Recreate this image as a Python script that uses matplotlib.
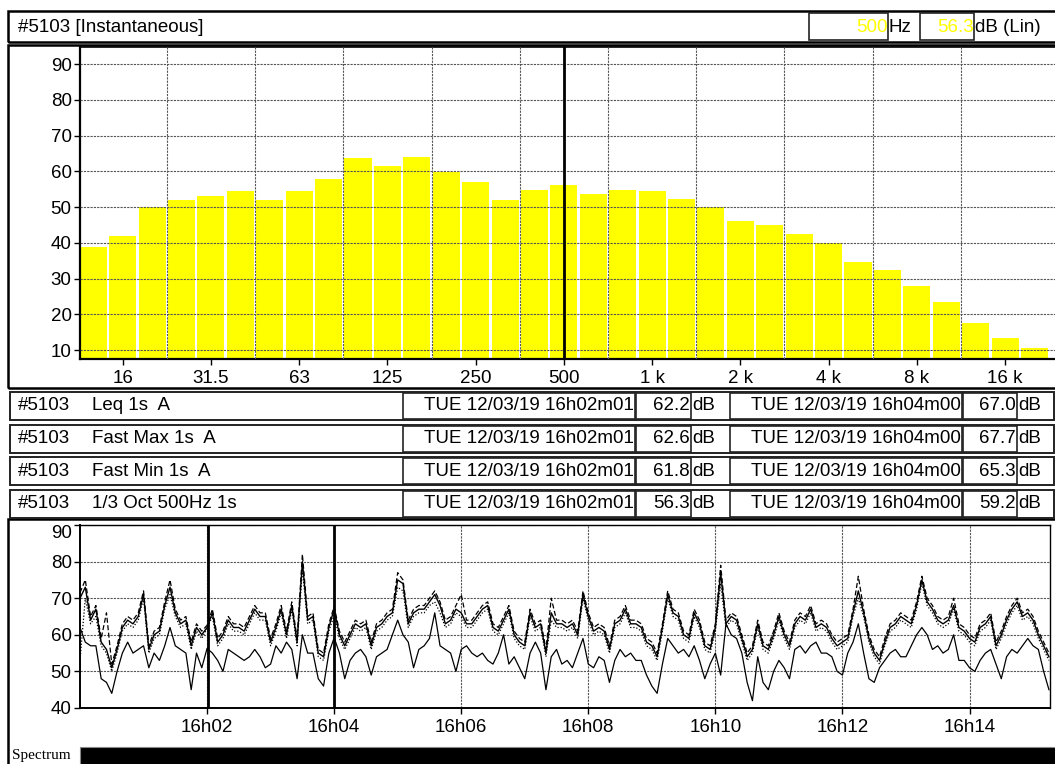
import matplotlib
matplotlib.use("Agg")
import matplotlib.pyplot as plt
from matplotlib.patches import Rectangle
import numpy as np

plt.rcParams['font.family'] = ['Liberation Sans', 'DejaVu Sans']
plt.rcParams['font.size'] = 13.5

W, H = 1055, 764

# 1/3 octave spectrum, 12.5 Hz .. 20 kHz
bands = ['12.5', '16', '20', '25', '31.5', '40', '50', '63', '80', '100', '125', '160',
         '200', '250', '315', '400', '500', '630', '800', '1 k', '1.25 k', '1.6 k', '2 k',
         '2.5 k', '3.15 k', '4 k', '5 k', '6.3 k', '8 k', '10 k', '12.5 k', '16 k', '20 k']
band_levels = [38.7, 41.9, 50.0, 52.0, 53.1, 54.5, 52.0, 54.5, 57.8, 63.7, 61.5, 64.0,
               59.9, 57.0, 52.0, 54.8, 56.3, 53.6, 54.8, 54.5, 52.2, 50.0, 46.1,
               45.0, 42.5, 39.9, 34.7, 32.5, 28.0, 23.4, 17.5, 13.4, 10.6]
band_labels = ['16', '31.5', '63', '125', '250', '500', '1 k', '2 k', '4 k', '8 k', '16 k']
cursor_band = '500'

# time history, seconds after 16h00m00, one value every 5 s
t_sec = list(range(0, 920, 5))
leq = [70, 73, 64, 67, 58, 56, 51, 56, 62, 64, 63, 65,
       71, 56, 60, 61, 68, 73, 66, 63, 64, 57, 62, 60,
       62, 66, 58, 60, 64, 62, 62, 61, 64, 67, 65, 65,
       58, 62, 67, 60, 68, 58, 80, 64, 65, 55, 54, 62,
       67, 60, 57, 60, 63, 62, 63, 57, 62, 63, 65, 66,
       75, 74, 63, 66, 67, 67, 69, 71, 68, 63, 64, 67,
       66, 63, 63, 65, 67, 68, 62, 61, 64, 67, 60, 58,
       57, 66, 62, 63, 55, 66, 63, 63, 62, 63, 60, 71,
       65, 61, 62, 61, 56, 63, 64, 67, 63, 63, 62, 58,
       57, 54, 62, 71, 66, 65, 60, 59, 66, 63, 57, 56,
       62, 77, 63, 65, 64, 59, 54, 56, 63, 57, 56, 60,
       65, 60, 57, 63, 65, 64, 67, 62, 63, 62, 59, 57,
       58, 59, 66, 72, 66, 59, 55, 53, 58, 62, 63, 65,
       64, 63, 68, 75, 69, 67, 64, 63, 64, 68, 62, 61,
       59, 58, 62, 63, 65, 57, 60, 64, 67, 69, 65, 66,
       64, 60, 57, 54]
fast_max = [71.5, 75, 65, 68, 59, 66, 52, 57, 63, 65, 64, 66,
            72, 57, 61, 62, 69, 75, 67, 64, 65, 58, 63, 61,
            62.6, 67, 59, 61, 65, 63, 63, 62, 65, 68, 66, 66,
            59, 63, 68, 61, 69, 59, 82, 65, 66, 56, 55, 63,
            67.7, 61, 58, 61, 64, 63, 64, 58, 63, 64, 66, 67,
            77, 75, 64, 67, 68, 68, 70, 72, 69, 64, 65, 68,
            71, 64, 64, 66, 68, 69, 63, 62, 65, 68, 61, 59,
            58, 67, 63, 64, 56, 70, 64, 64, 63, 64, 61, 72,
            66, 62, 63, 62, 57, 64, 65, 68, 64, 64, 63, 59,
            58, 55, 63, 72, 67, 66, 61, 60, 67, 64, 58, 57,
            63, 79, 64, 66, 65, 60, 55, 57, 64, 58, 57, 61,
            66, 61, 58, 64, 66, 65, 68, 63, 64, 63, 60, 58,
            59, 60, 67, 76, 67, 60, 56, 54, 59, 63, 64, 66,
            65, 64, 69, 76, 70, 68, 65, 64, 65, 70, 63, 62,
            60, 59, 63, 64, 66, 58, 61, 65, 68, 70, 66, 67,
            65, 61, 58, 55]
fast_min = [53, 70, 63, 65, 57, 55, 50, 55, 61, 63, 62, 64,
            70, 55, 59, 60, 67, 71, 65, 62, 63, 56, 61, 59,
            61.8, 65, 57, 59, 63, 61, 61, 60, 63, 66, 64, 64,
            57, 61, 66, 59, 67, 57, 78, 63, 64, 54, 53, 61,
            65.3, 59, 56, 59, 62, 61, 62, 56, 61, 62, 64, 65,
            73, 72, 62, 65, 66, 66, 68, 69, 66, 62, 63, 66,
            65, 62, 62, 64, 66, 67, 61, 60, 63, 66, 59, 57,
            56, 65, 61, 62, 54, 64, 62, 62, 61, 62, 59, 70,
            64, 60, 61, 60, 55, 62, 63, 66, 62, 62, 61, 57,
            56, 53, 61, 70, 65, 64, 59, 58, 65, 62, 56, 55,
            61, 74, 62, 64, 63, 58, 53, 55, 62, 56, 55, 59,
            64, 59, 56, 62, 64, 63, 66, 61, 62, 61, 58, 56,
            57, 58, 65, 70, 65, 58, 54, 52, 57, 61, 62, 64,
            63, 62, 67, 74, 68, 66, 63, 62, 63, 67, 61, 60,
            58, 57, 61, 62, 64, 56, 59, 63, 66, 68, 64, 65,
            63, 59, 56, 53]
oct500 = [62, 58, 57, 57, 48, 47, 44, 50, 55, 58, 55, 56,
          57, 51, 55, 53, 57, 62, 57, 56, 55, 45, 55, 51,
          56.3, 55, 53, 50, 56, 55, 54, 53, 54, 56, 54, 51,
          52, 57, 55, 58, 56, 48, 60, 55, 55, 48, 46, 55,
          59.2, 55, 48, 53, 55, 56, 54, 49, 54, 55, 56, 60,
          64, 60, 58, 51, 56, 57, 59, 66, 57, 56, 55, 50,
          56, 57, 55, 54, 55, 53, 52, 55, 60, 52, 54, 51,
          48, 55, 58, 55, 45, 54, 56, 52, 53, 51, 55, 59,
          52, 51, 54, 53, 47, 53, 56, 54, 55, 53, 53, 49,
          46, 44, 52, 59, 57, 55, 56, 54, 57, 53, 48, 52,
          55, 49, 63, 60, 59, 55, 47, 42, 54, 47, 45, 50,
          53, 51, 48, 56, 57, 55, 57, 58, 55, 55, 54, 50,
          49, 55, 58, 63, 55, 48, 47, 51, 53, 55, 56, 54,
          54, 57, 60, 62, 60, 56, 57, 55, 56, 60, 53, 53,
          51, 50, 53, 55, 56, 52, 48, 54, 56, 55, 57, 59,
          57, 56, 50, 45]
time_ticks = [120, 240, 360, 480, 600, 720, 840]
time_labels = ['16h02', '16h04', '16h06', '16h08', '16h10', '16h12', '16h14']
cursors = [121, 240]

# table rows
row_names = ['Leq 1s  A', 'Fast Max 1s  A', 'Fast Min 1s  A', '1/3 Oct 500Hz 1s']
date1 = 'TUE 12/03/19 16h02m01'
date2 = 'TUE 12/03/19 16h04m00'
vals1 = ['62.2', '62.6', '61.8', '56.3']
vals2 = ['67.0', '67.7', '65.3', '59.2']

fig = plt.figure(figsize=(W / 100, H / 100), dpi=100)


def box(x0, y0, x1, y1, lw=1.2, ec='#222222', fc='none', z=5):
    fig.add_artist(Rectangle((x0 / W, 1 - y1 / H), (x1 - x0) / W, (y1 - y0) / H,
                             transform=fig.transFigure, lw=lw, ec=ec, fc=fc, zorder=z))


def txt(x, y, s, ha='left', color='black', **kw):
    fig.text(x / W, 1 - y / H, s, ha=ha, va='center', color=color, zorder=6, **kw)


def axes_px(x0, y0, x1, y1):
    return fig.add_axes([x0 / W, 1 - y1 / H, (x1 - x0) / W, (y1 - y0) / H])


grid_kw = dict(color='#555555', linestyle=(0, (2, 1)), linewidth=0.8)

# ---- spectrum bars
ax1 = axes_px(80, 47, 1058, 359)
xi = np.arange(len(bands))
ax1.bar(xi, band_levels, width=0.92, color='#ffff00', zorder=1)
ax1.set_xlim(-0.452, 32.8)
ax1.set_ylim(7.5, 94.8)
ax1.set_yticks(range(10, 100, 10))
ax1.set_xticks([bands.index(b) for b in band_labels])
ax1.set_xticklabels(band_labels)
ax1.set_xticks(np.arange(2.5, 30, 3), minor=True)
ax1.tick_params(axis='x', which='minor', length=0)
ax1.tick_params(axis='both', which='major', length=4, width=1, pad=2, labelsize=13.5)
ax1.tick_params(axis='x', which='major', pad=4)
ax1.set_axisbelow(False)
ax1.grid(axis='y', which='major', **grid_kw)
ax1.grid(axis='x', which='minor', **grid_kw)
ax1.axvline(bands.index(cursor_band), color='black', lw=2, zorder=4)
for s in ['left', 'bottom']:
    ax1.spines[s].set_linewidth(1.6)
ax1.spines['top'].set_linewidth(1.2)
ax1.spines['right'].set_visible(False)

# ---- time history
ax2 = axes_px(80, 525, 1050, 708)
ax2.plot(t_sec, oct500, color='black', lw=0.9)
ax2.plot(t_sec, leq, color='black', lw=1.0)
ax2.plot(t_sec, fast_max, color='black', lw=0.9, linestyle=(0, (4, 2)))
ax2.plot(t_sec, fast_min, color='black', lw=0.9, linestyle=(0, (1, 1.5)))
for c in cursors:
    ax2.axvline(c, color='black', lw=2, zorder=4)
ax2.set_xlim(0, 916)
ax2.set_ylim(40, 90)
ax2.set_yticks(range(40, 100, 10))
ax2.set_xticks(time_ticks)
ax2.set_xticklabels(time_labels)
ax2.tick_params(axis='both', length=4, width=1, pad=2, labelsize=13.5)
ax2.tick_params(axis='x', pad=4)
ax2.get_yticklabels()[-1].set_va('top')
ax2.grid(True, **grid_kw)
for s in ['left', 'bottom']:
    ax2.spines[s].set_linewidth(1.4)
for s in ['top', 'right']:
    ax2.spines[s].set_linewidth(1.0)

# ---- header
box(8, 11, 1056, 42, lw=1.8, ec='black')
txt(18, 27, '#5103 [Instantaneous]')
box(809, 13, 888, 40, lw=1.2)
txt(888, 27, '500', ha='right', color='#ffff00')
txt(889, 27, 'Hz')
box(920, 13, 974, 40, lw=1.2)
txt(974, 27, '56.3', ha='right', color='#ffff00')
txt(975, 27, 'dB (Lin)')

# panel frames
box(8, 45, 1056, 388, lw=1.8, ec='black')
box(8, 519, 1056, 770, lw=1.8, ec='black')

# ---- table
row_tops = [392, 424.5, 457, 489.5]
for top, name, v1, v2 in zip(row_tops, row_names, vals1, vals2):
    bot = top + 28
    yc = top + 14
    box(10, top, 1054, bot, lw=1.4)
    box(403, top + 1, 635, bot - 1, lw=1.2)
    box(636, top + 1, 691, bot - 1, lw=1.2)
    box(730, top + 1, 962, bot - 1, lw=1.2)
    box(963, top + 1, 1017, bot - 1, lw=1.2)
    txt(18, yc, '#5103')
    txt(92, yc, name)
    txt(634, yc, date1, ha='right')
    txt(690, yc, v1, ha='right')
    txt(692, yc, 'dB')
    txt(961, yc, date2, ha='right')
    txt(1016, yc, v2, ha='right')
    txt(1018, yc, 'dB')

# ---- spectrum bar at the bottom
box(80, 747, 1056, 766, lw=0.8, ec='#888888', fc='black')
txt(12, 756, 'Spectrum', family=['Liberation Serif', 'DejaVu Serif'], fontsize=11)

fig.savefig('out.png', dpi=100, facecolor='white')
